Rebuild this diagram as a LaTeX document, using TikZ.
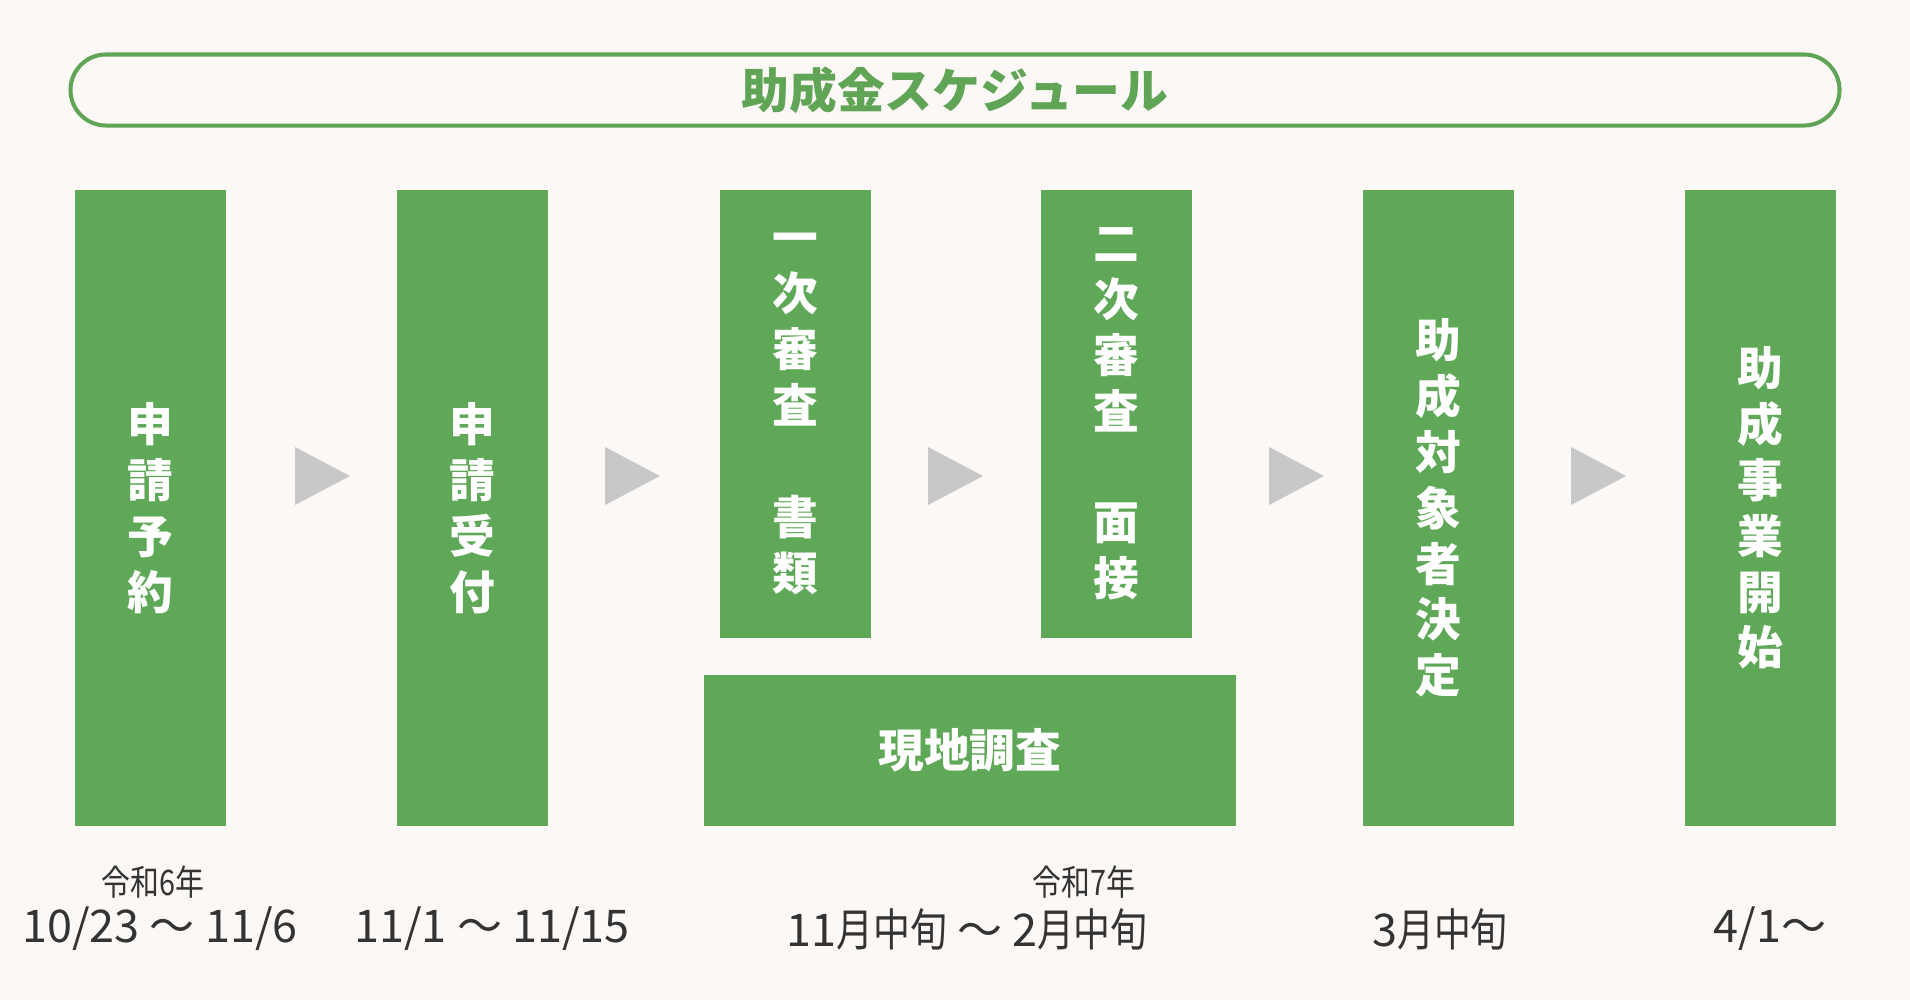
\documentclass[tikz,border=0pt]{standalone}
\usepackage{fontspec}
\setmainfont{Noto Sans CJK JP}
\newfontfamily\narrowjp[FakeStretch=0.82]{Noto Sans CJK JP}
\usetikzlibrary{shapes.misc}
\definecolor{stepgreen}{RGB}{94,168,87}
\definecolor{titlegreen}{RGB}{96,164,86}
\definecolor{bgcream}{RGB}{251,248,245}
\definecolor{arrowgray}{RGB}{200,200,200}
\definecolor{datetext}{RGB}{51,51,51}
\newcommand{\nj}[1]{{\narrowjp #1}}
\tikzstyle{titlebox}=[rounded rectangle, draw=titlegreen, line width=1.15pt, text=titlegreen, font=\bfseries\fontsize{13.6}{16}\selectfont, minimum width=17.68cm, minimum height=0.71cm, inner sep=0pt]
\tikzstyle{stepbox}=[fill=stepgreen, text=white, font=\bfseries\fontsize{13}{15.9}\selectfont, align=center, inner sep=0pt, minimum width=1.51cm, anchor=north west]
\tikzstyle{era}=[text=datetext, font=\narrowjp\fontsize{10}{12}\selectfont, inner sep=0pt]
\tikzstyle{date}=[text=datetext, font=\fontsize{12.8}{15}\selectfont, inner sep=0pt]

\begin{document}
\begin{tikzpicture}[x=0.01cm, y=-0.01cm]
	% background and page size
	\fill[bgcream] (0,0) rectangle (1910,1000);
	\useasboundingbox (0,0) rectangle (1910,1000);

	% title
	\node[titlebox] (title) at (955,90) {助成金スケジュール};

	% steps
	\node[stepbox, minimum height=6.36cm] (yoyaku) at (74,189) {申\\請\\予\\約};
	\node[stepbox, minimum height=6.36cm] (uketsuke) at (396,189) {申\\請\\受\\付};
	\node[stepbox, minimum height=4.48cm] (shinsa1) at (719,189) {一\\次\\審\\査\\\mbox{}\\書\\類};
	\node[stepbox, minimum height=4.48cm] (shinsa2) at (1040,189) {二\\次\\審\\査\\\mbox{}\\面\\接};
	\node[stepbox, minimum width=5.32cm, minimum height=1.51cm] (genchi) at (703,674) {現地調査};
	\node[stepbox, minimum height=6.36cm] (kettei) at (1362,189) {助\\成\\対\\象\\者\\決\\定};
	\node[stepbox, minimum height=6.36cm] (kaishi) at (1684,189) {助\\成\\事\\業\\開\\始};

	% arrows between steps
	\foreach \x in {295, 605, 928, 1269, 1571}{
		\fill[arrowgray] (\x,447) -- (\x+55,476) -- (\x,505) -- cycle;
	}

	% dates
	\node[era] (era6) at (153,882) {令和6年};
	\node[date] (date1) at (160,929) {10/23 ～ 11/6};
	\node[date] (date2) at (492,929) {11/1 ～ 11/15};
	\node[era] (era7) at (1084,882) {令和7年};
	\node[date] (date3) at (967,929) {11\nj{月中旬} ～ 2\nj{月中旬}};
	\node[date] (date4) at (1440,929) {3\nj{月中旬}};
	\node[date] (date5) at (1770,929) {4/1～};
\end{tikzpicture}
\end{document}
